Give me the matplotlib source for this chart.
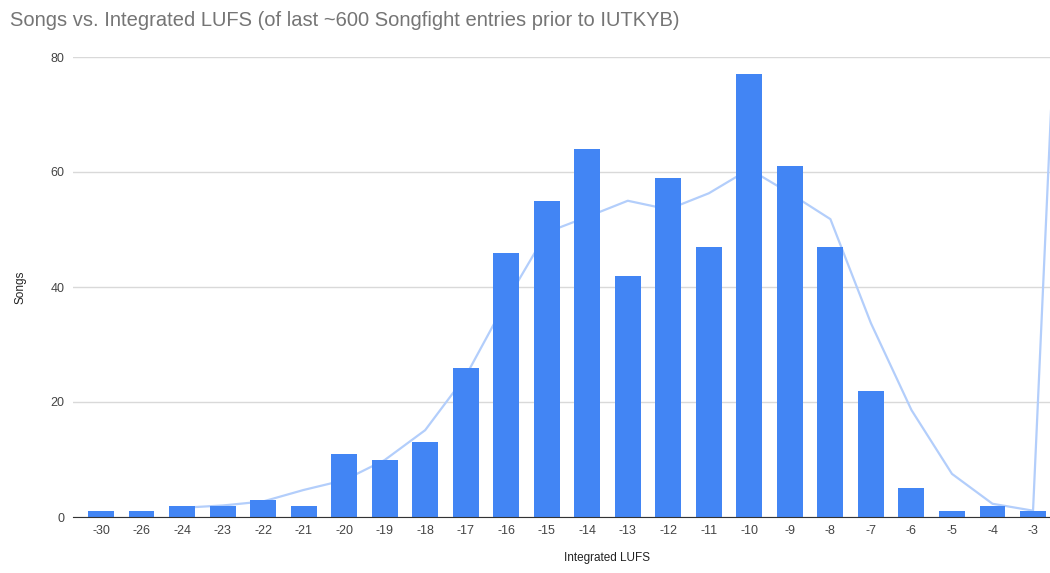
import numpy as np
import matplotlib
matplotlib.use("Agg")
import matplotlib.pyplot as plt

plt.rcParams['font.family'] = ['Liberation Sans', 'DejaVu Sans']

# Data
lufs = ["-30", "-26", "-24", "-23", "-22", "-21", "-20", "-19", "-18", "-17", "-16", "-15",
        "-14", "-13", "-12", "-11", "-10", "-9", "-8", "-7", "-6", "-5", "-4", "-3"]
songs = [1, 1, 2, 2, 3, 2, 11, 10, 13, 26, 46, 55, 64, 42, 59, 47, 77, 61, 47, 22, 5, 1, 2, 1]
# light trend line (last point runs off the right edge)
trend = [np.nan, np.nan, 1.6, 2.0, 2.7, 4.7, 6.4, 9.9, 15.1, 24.5, 37.5, 49.5,
         52.2, 55.0, 53.5, 56.3, 60.5, 56.3, 51.8, 33.7, 18.6, 7.5, 2.3, 1.1, 158]

fig = plt.figure(figsize=(10.5, 5.73), dpi=100)
ax = fig.add_axes([73 / 1050, 1 - 517 / 573, (1061 - 73) / 1050, 460 / 573])

x = np.arange(len(lufs))
ax.plot(np.arange(len(trend)), trend, color="#b3cefb", linewidth=1.6, zorder=2)
ax.bar(x, songs, width=0.64, color="#4285f4", zorder=3)

ax.set_xlim(-0.69, len(lufs) - 1 + 0.69)
ax.set_ylim(0, 80)
ax.set_yticks([0, 20, 40, 60, 80])
ax.set_xticks(x)
ax.set_xticklabels(lufs)
ax.tick_params(axis="both", length=0, labelsize=9, colors="#444444")
ax.tick_params(axis="x", pad=6)
ax.tick_params(axis="y", pad=6)
ax.grid(axis="y", color="#d9d9d9", linewidth=1, zorder=0)
ax.set_axisbelow(True)
for s in ["top", "right", "left"]:
    ax.spines[s].set_visible(False)
ax.spines["bottom"].set_color("#333333")
ax.spines["bottom"].set_zorder(4)

# axis titles (placed like the Sheets export, x title is off-centre)
fig.text(607 / 1050, 1 - 558 / 573, "Integrated LUFS", fontsize=8.5, color="#222222",
         ha="center", va="center")
fig.text(20 / 1050, 1 - 287 / 573, "Songs", fontsize=8.5, color="#222222",
         ha="center", va="center", rotation=90)
fig.text(10 / 1050, 1 - 20 / 573, "Songs vs. Integrated LUFS (of last ~600 Songfight entries prior to IUTKYB)",
         fontsize=14.5, color="#757575", va="center", ha="left")

fig.savefig("out.png", dpi=100)
